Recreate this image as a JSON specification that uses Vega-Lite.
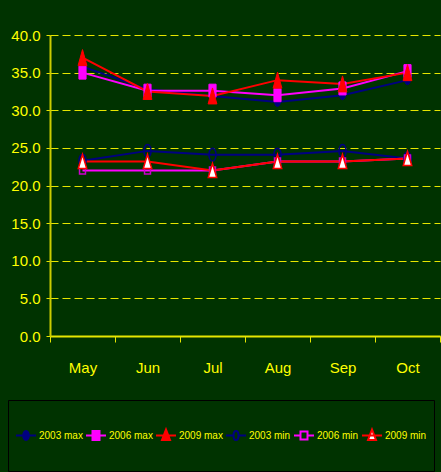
{
  "$schema": "https://vega.github.io/schema/vega-lite/v6.json",
  "width": 390,
  "height": 301,
  "autosize": {"type": "none"},
  "padding": {"left": 50, "top": 35, "right": 1, "bottom": 136},
  "background": "#003300",
  "config": {"view": {"stroke": null}, "font": "Liberation Sans, Arial, sans-serif"},
  "data": {
    "values": [
      {"series": "2003 max", "month": "May", "value": 35.8},
      {"series": "2003 max", "month": "Jun", "value": 32.8},
      {"series": "2003 max", "month": "Jul", "value": 31.9},
      {"series": "2003 max", "month": "Aug", "value": 31.1},
      {"series": "2003 max", "month": "Sep", "value": 32.0},
      {"series": "2003 max", "month": "Oct", "value": 34.0},
      {"series": "2006 max", "month": "May", "value": 35.0},
      {"series": "2006 max", "month": "Jun", "value": 32.6},
      {"series": "2006 max", "month": "Jul", "value": 32.6},
      {"series": "2006 max", "month": "Aug", "value": 32.0},
      {"series": "2006 max", "month": "Sep", "value": 32.9},
      {"series": "2006 max", "month": "Oct", "value": 35.2},
      {"series": "2009 max", "month": "May", "value": 37.0},
      {"series": "2009 max", "month": "Jun", "value": 32.5},
      {"series": "2009 max", "month": "Jul", "value": 31.9},
      {"series": "2009 max", "month": "Aug", "value": 34.0},
      {"series": "2009 max", "month": "Sep", "value": 33.5},
      {"series": "2009 max", "month": "Oct", "value": 35.0},
      {"series": "2003 min", "month": "May", "value": 23.3},
      {"series": "2003 min", "month": "Jun", "value": 24.6},
      {"series": "2003 min", "month": "Jul", "value": 24.1},
      {"series": "2003 min", "month": "Aug", "value": 24.1},
      {"series": "2003 min", "month": "Sep", "value": 24.6},
      {"series": "2003 min", "month": "Oct", "value": 23.6},
      {"series": "2006 min", "month": "May", "value": 22.0},
      {"series": "2006 min", "month": "Jun", "value": 22.0},
      {"series": "2006 min", "month": "Jul", "value": 22.0},
      {"series": "2006 min", "month": "Aug", "value": 23.2},
      {"series": "2006 min", "month": "Sep", "value": 23.2},
      {"series": "2006 min", "month": "Oct", "value": 23.6},
      {"series": "2009 min", "month": "May", "value": 23.2},
      {"series": "2009 min", "month": "Jun", "value": 23.2},
      {"series": "2009 min", "month": "Jul", "value": 22.0},
      {"series": "2009 min", "month": "Aug", "value": 23.2},
      {"series": "2009 min", "month": "Sep", "value": 23.2},
      {"series": "2009 min", "month": "Oct", "value": 23.6}
    ]
  },
  "encoding": {
    "x": {
      "field": "month",
      "type": "nominal",
      "sort": ["May", "Jun", "Jul", "Aug", "Sep", "Oct"],
      "scale": {"type": "band", "paddingInner": 0, "paddingOuter": 0},
      "axis": {
        "title": null,
        "labelAngle": 0,
        "tickBand": "extent",
        "domainColor": "#E6E600",
        "domainWidth": 2,
        "tickColor": "#E6E600",
        "tickSize": 6,
        "labelPadding": 18,
        "labelColor": "#FFFF00",
        "labelFontSize": 15,
        "grid": false
      }
    },
    "y": {
      "field": "value",
      "type": "quantitative",
      "scale": {"domain": [0, 40]},
      "axis": {
        "title": null,
        "values": [0, 5, 10, 15, 20, 25, 30, 35, 40],
        "format": ".1f",
        "grid": true,
        "gridColor": "#E6E600",
        "gridDash": [8, 4],
        "gridWidth": 1,
        "domainColor": "#CCCC00",
        "domainWidth": 2,
        "tickColor": "#E6E600",
        "tickSize": 4,
        "labelPadding": 6,
        "labelColor": "#FFFF00",
        "labelFontSize": 15
      }
    }
  },
  "layer": [
    {
      "mark": {"type": "line", "strokeWidth": 2},
      "encoding": {
        "color": {
          "field": "series",
          "type": "nominal",
          "scale": {
            "domain": ["2003 max", "2006 max", "2009 max", "2003 min", "2006 min", "2009 min"],
            "range": ["#000080", "#FF00FF", "#FF0000", "#000080", "#FF00FF", "#FF0000"]
          },
          "legend": {
            "orient": "none",
            "legendX": -42,
            "legendY": 365,
            "direction": "horizontal",
            "columns": 6,
            "title": null,
            "strokeColor": "#000000",
            "padding": 7,
            "clipHeight": 57,
            "symbolType": "M-1,0L1,0M0,-0.45A0.28,0.45 0 1,1 0,0.45A0.28,0.45 0 1,1 0,-0.45Z",
            "symbolSize": 400,
            "symbolStrokeWidth": 2,
            "labelOffset": 2,
            "columnPadding": 2,
            "labelColor": "#FFFF00",
            "labelFontSize": 10,
            "encode": {
              "symbols": {
                "update": {
                  "shape": {"signal": "datum.value==='2003 max'?'M-1,0L1,0M0,-0.45A0.28,0.45 0 1,1 0,0.45A0.28,0.45 0 1,1 0,-0.45Z':datum.value==='2006 max'?'M-1,0L1,0M-0.35,-0.45L0.35,-0.45L0.35,0.45L-0.35,0.45Z':datum.value==='2009 max'?'M-1,0L1,0M0,-0.6L0.4,0.45L-0.4,0.45Z':datum.value==='2003 min'?'M-1,0L-0.25,0M0.25,0L1,0M0,-0.45A0.25,0.45 0 1,1 0,0.45A0.25,0.45 0 1,1 0,-0.45Z':datum.value==='2006 min'?'M-1,0L-0.35,0M0.35,0L1,0M-0.35,-0.4L0.35,-0.4L0.35,0.4L-0.35,0.4Z':'M-1,0L1,0M0,-0.6L0.4,0.45L-0.4,0.45Z'"},
                  "fill": {"signal": "datum.value==='2003 max'?'#000080':datum.value==='2006 max'?'#FF00FF':datum.value==='2009 max'?'#FF0000':datum.value==='2009 min'?'#FFFFFF':'transparent'"},
                  "strokeWidth": {"value": 2}
                }
              }
            }
          }
        }
      }
    },
    {
      "transform": [{"filter": "datum.series === '2003 max'"}],
      "mark": {"type": "point", "filled": true, "opacity": 1, "shape": "M0,-1A0.65,1 0 1,1 0,1A0.65,1 0 1,1 0,-1Z", "size": 81, "fill": "#000080", "stroke": "#000080", "strokeWidth": 1}
    },
    {
      "transform": [{"filter": "datum.series === '2006 max'"}],
      "mark": {"type": "point", "filled": true, "opacity": 1, "shape": "M-0.55,-1L0.55,-1L0.55,1L-0.55,1Z", "size": 169, "fill": "#FF00FF", "stroke": "#FF00FF", "strokeWidth": 1}
    },
    {
      "transform": [{"filter": "datum.series === '2009 max'"}],
      "mark": {"type": "point", "filled": true, "opacity": 1, "shape": "M0,-1L0.55,1L-0.55,1Z", "size": 256, "fill": "#FF0000", "stroke": "#FF0000", "strokeWidth": 1}
    },
    {
      "transform": [{"filter": "datum.series === '2003 min'"}],
      "mark": {"type": "point", "filled": false, "opacity": 1, "shape": "M0,-1A0.55,1 0 1,1 0,1A0.55,1 0 1,1 0,-1Z", "size": 169, "fill": "transparent", "stroke": "#000080", "strokeWidth": 1.5}
    },
    {
      "transform": [{"filter": "datum.series === '2006 min'"}],
      "mark": {"type": "point", "filled": false, "opacity": 1, "shape": "M-0.85,-1L0.85,-1L0.85,1L-0.85,1Z", "size": 49, "fill": "transparent", "stroke": "#CC00CC", "strokeWidth": 1.5}
    },
    {
      "transform": [{"filter": "datum.series === '2009 min'"}],
      "mark": {"type": "point", "filled": true, "opacity": 1, "shape": "M0,-1L0.6,1L-0.6,1Z", "size": 196, "fill": "#FFFFFF", "stroke": "#FF0000", "strokeWidth": 1.5}
    }
  ]
}
